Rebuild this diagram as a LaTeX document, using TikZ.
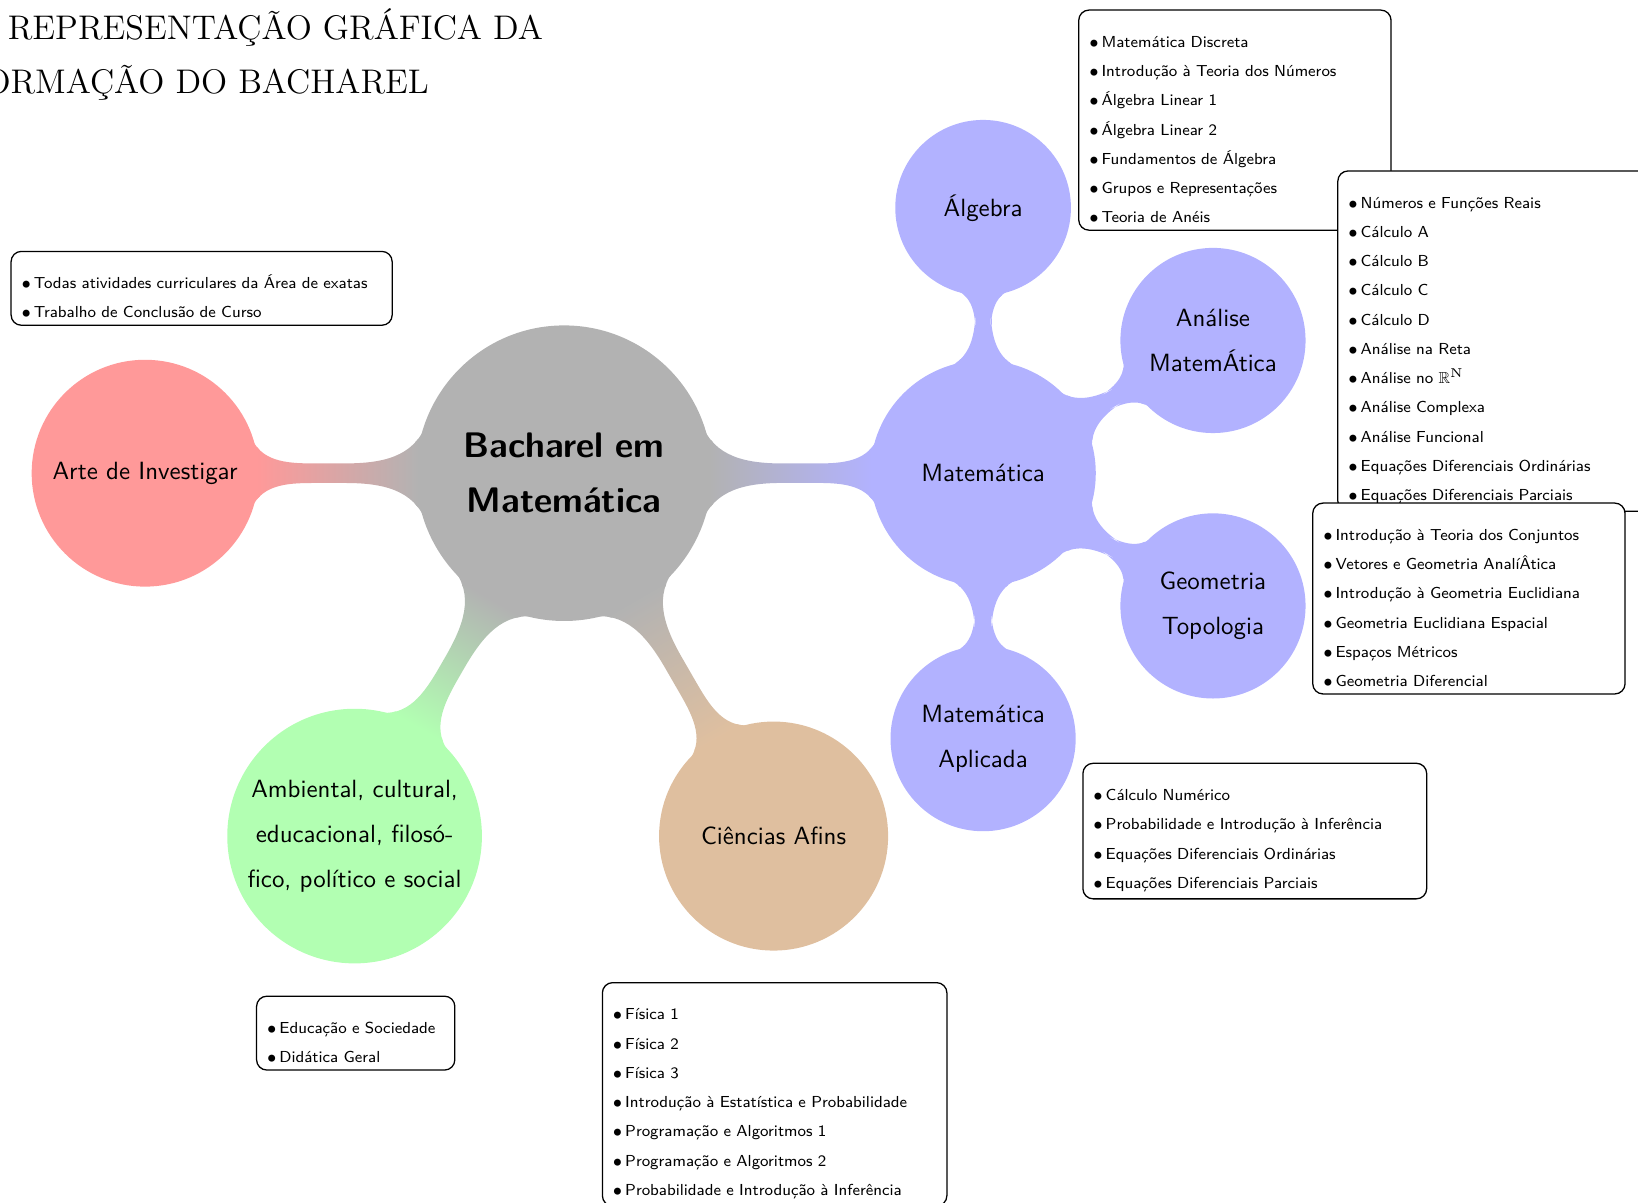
\documentclass[tikz,border=0pt]{standalone}
\usepackage{amsmath}
\usepackage{amssymb}
\usetikzlibrary{mindmap}

\begin{document}
\begin{tikzpicture}[
        bacharel/.style={
            concept,
            concept color=black!30,
            minimum size=4cm,
            text width=3.6cm,
            inner sep=0pt,
            align=center,
            font=\sffamily\bfseries\fontsize{13.8}{21.5}\selectfont
        },
        area/.style={
            concept,
            minimum size=3.06cm,
            text width=3cm,
            inner sep=0pt,
            align=center,
            font=\sffamily\fontsize{9.7}{17.5}\selectfont
        },
        subarea/.style={
            area,
            concept color=blue!30,
            minimum size=2.49cm,
            text width=1.9cm
        },
        listbox/.style={
            draw,
            line width=0.5pt,
            rounded corners=4pt,
            fill=white,
            anchor=north west,
            align=left,
            inner xsep=4pt,
            inner ysep=2.8pt,
            font=\sffamily\fontsize{6.2}{11.38}\selectfont
        }
    ]
    \useasboundingbox (0, 0) rectangle (22.4, -16.438);

    % titulo
    \node[anchor=base west, inner sep=0pt, font=\fontsize{13.3}{21.1}\selectfont] (titulo1)
        at (0.1, -0.539) {REPRESENTAÇÃO GRÁFICA DA};
    \node[anchor=base east, inner sep=0pt, font=\fontsize{13.3}{21.1}\selectfont] (titulo2)
        at (5.871, -1.281) {FORMAÇÃO DO BACHAREL};

    \begin{scope}[mindmap]
        \node[bacharel] (bacharel) at (7.714, -6.471) {Bacharel em\\Matemática};
        \node[area, concept color=red!40] (arte) at ([shift={(180:5.73)}]bacharel) {Arte de Investigar};
        \node[area, concept color=blue!30, minimum size=3.04cm] (matematica) at ([shift={(0:5.73)}]bacharel) {Matemática};
        \node[area, concept color=green!30, minimum size=3.44cm] (ambiental) at ([shift={(-120:5.73)}]bacharel)
            {Ambiental, cultural,\\educacional, filosó-\\fico, político e social};
        \node[area, concept color=brown!50, minimum size=3.09cm] (ciencias) at ([shift={(-60:5.73)}]bacharel) {Ciências Afins};

        \foreach \ang/\nome/\tam/\texto in {
                90/algebra/2.36/{Álgebra},
                30/analise/2.49/{Análise\\MatemÁtica},
                -30/geometria/2.49/{Geometria\\Topologia},
                -90/aplicada/2.49/{Matemática\\Aplicada}} {
            \node[subarea, minimum size=\tam cm] (\nome) at ([shift={(\ang:3.63)}]matematica) {\texto};
        }

        \path[line width=0.27cm] (bacharel) to[circle connection bar switch color=from (black!30) to (red!40)] (arte);
        \path[line width=0.27cm] (bacharel) to[circle connection bar switch color=from (black!30) to (blue!30)] (matematica);
        \path[line width=0.27cm] (bacharel) to[circle connection bar switch color=from (black!30) to (green!30)] (ambiental);
        \path[line width=0.27cm] (bacharel) to[circle connection bar switch color=from (black!30) to (brown!50)] (ciencias);
        \foreach \nome in {algebra, analise, geometria, aplicada} {
            \path[line width=0.22cm] (matematica) to[circle connection bar switch color=from (blue!30) to (blue!30)] (\nome);
        }
    \end{scope}

    % disciplinas
    \node[listbox, text width=3.99cm] (algbox) at (14.743, -0.129)
        {\rule{0pt}{11.7pt}$\bullet$\,Matemática Discreta\\
         $\bullet$\,Introdução à Teoria dos Números\\
         $\bullet$\,Álgebra Linear 1\\
         $\bullet$\,Álgebra Linear 2\\
         $\bullet$\,Fundamentos de Álgebra\\
         $\bullet$\,Grupos e Representações\\
         $\bullet$\,Teoria de Anéis};
    \node[listbox, text width=3.99cm] (anabox) at (18.286, -2.329)
        {\rule{0pt}{11.7pt}$\bullet$\,Números e Funções Reais\\
         $\bullet$\,Cálculo A\\
         $\bullet$\,Cálculo B\\
         $\bullet$\,Cálculo C\\
         $\bullet$\,Cálculo D\\
         $\bullet$\,Análise na Reta\\
         $\bullet$\,Análise no $\mathbb{R}^{\mathrm{N}}$\\
         $\bullet$\,Análise Complexa\\
         $\bullet$\,Análise Funcional\\
         $\bullet$\,Equações Diferenciais Ordinárias\\
         $\bullet$\,Equações Diferenciais Parciais};
    \node[listbox, text width=3.99cm] (geobox) at (17.943, -6.871)
        {\rule{0pt}{11.7pt}$\bullet$\,Introdução à Teoria dos Conjuntos\\
         $\bullet$\,Vetores e Geometria AnalíÂtica\\
         $\bullet$\,Introdução à Geometria Euclidiana\\
         $\bullet$\,Geometria Euclidiana Espacial\\
         $\bullet$\,Espaços Métricos\\
         $\bullet$\,Geometria Diferencial};
    \node[listbox, text width=4.42cm] (aplbox) at (14.8, -10.429)
        {\rule{0pt}{11.7pt}$\bullet$\,Cálculo Numérico\\
         $\bullet$\,Probabilidade e Introdução à Inferência\\
         $\bullet$\,Equações Diferenciais Ordinárias\\
         $\bullet$\,Equações Diferenciais Parciais};
    \node[listbox, text width=4.93cm] (artebox) at (0.143, -3.429)
        {\rule{0pt}{11.7pt}$\bullet$\,Todas atividades curriculares da Área de exatas\\
         $\bullet$\,Trabalho de Conclusão de Curso};
    \node[listbox, text width=2.43cm] (educbox) at (3.5, -13.614)
        {\rule{0pt}{11.7pt}$\bullet$\,Educação e Sociedade\\
         $\bullet$\,Didática Geral};
    \node[listbox, text width=4.43cm] (cienbox) at (8.229, -13.429)
        {\rule{0pt}{11.7pt}$\bullet$\,Física 1\\
         $\bullet$\,Física 2\\
         $\bullet$\,Física 3\\
         $\bullet$\,Introdução à Estatística e Probabilidade\\
         $\bullet$\,Programação e Algoritmos 1\\
         $\bullet$\,Programação e Algoritmos 2\\
         $\bullet$\,Probabilidade e Introdução à Inferência};
\end{tikzpicture}
\end{document}
